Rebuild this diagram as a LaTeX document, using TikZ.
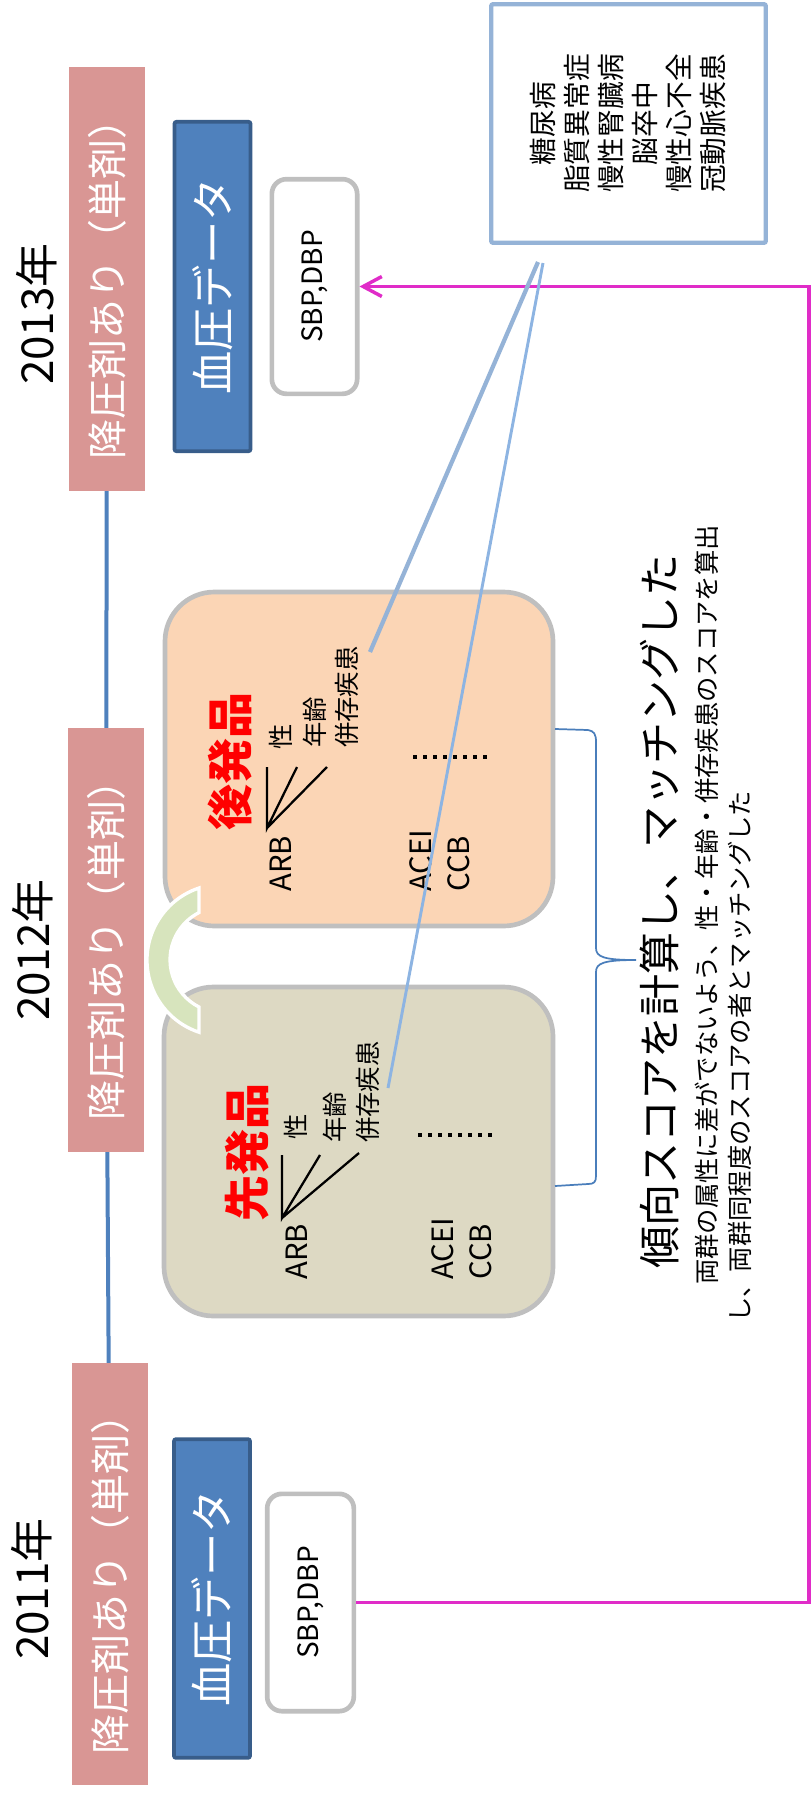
\documentclass[tikz,border=0pt]{standalone}
\usepackage{fontspec}
\setmainfont{Noto Sans CJK JP}
\usetikzlibrary{arrows.meta,backgrounds}
\definecolor{pinkF}{RGB}{217,150,148}
\definecolor{blueF}{RGB}{79,129,189}
\definecolor{blueD}{RGB}{56,93,138}
\definecolor{grayB}{RGB}{191,191,191}
\definecolor{lblue}{RGB}{149,179,215}
\definecolor{lblue2}{RGB}{141,180,226}
\definecolor{orangeF}{RGB}{251,213,181}
\definecolor{tanF}{RGB}{221,217,195}
\definecolor{greenF}{RGB}{215,228,189}
\definecolor{braceC}{RGB}{74,126,187}
\definecolor{magC}{RGB}{224,44,200}
\tikzset{
  pinkbox/.style={rotate=90, fill=pinkF, draw=none, minimum height=57pt, text=white,
    font=\fontsize{30pt}{36pt}\selectfont, inner sep=0pt},
  year/.style={rotate=90, inner sep=0pt, font=\fontsize{33pt}{40pt}\selectfont},
  bluebox/.style={rotate=90, fill=blueF, draw=blueD, line width=2.8pt, rounded corners=1.5pt,
    text=white, font=\fontsize{32.5pt}{39pt}\selectfont, inner sep=0pt},
  sbpbox/.style={rotate=90, fill=white, draw=grayB, line width=3.5pt, rounded corners=11pt,
    font=\fontsize{21pt}{25pt}\selectfont, inner sep=0pt},
  cbox/.style={rotate=90, fill=white, draw=lblue, line width=3.2pt, rounded corners=1.5pt,
    minimum width=179pt, minimum height=206pt, align=center, inner sep=0pt,
    font=\fontsize{20.8pt}{25.5pt}\selectfont},
  bigbox/.style={draw=grayB, line width=3.5pt, rounded corners=37pt, inner sep=0pt},
  redt/.style={rotate=90, inner sep=0pt, text=red, font=\fontsize{34.5pt}{40pt}\selectfont\bfseries},
  lat/.style={rotate=90, inner sep=0pt, anchor=west, font=\fontsize{22pt}{26pt}\selectfont},
  jt/.style={rotate=90, inner sep=0pt, anchor=west, font=\fontsize{19pt}{23pt}\selectfont},
  bigt/.style={rotate=90, inner sep=0pt, font=\fontsize{31.5pt}{38pt}\selectfont},
  subt/.style={rotate=90, inner sep=0pt, anchor=west, font=\fontsize{19pt}{23pt}\selectfont},
  fan/.style={line width=1.7pt, black},
  dotrow/.style={line width=3.4pt, dash pattern=on 3.2pt off 4.3pt},
  timeline/.style={draw=blueF, line width=3pt},
  magline/.style={draw=magC, line width=2.6pt, -{Straight Barb[length=14pt,width=15pt,line width=2.6pt]}},
  bl1/.style={draw=lblue, line width=3.2pt},
  bl2/.style={draw=lblue2, line width=2.2pt},
  bracestyle/.style={draw=braceC, line width=1.3pt}
}
\begin{document}
\begin{tikzpicture}[x=0.75pt,y=-0.75pt]
\useasboundingbox (0,0) rectangle (811,1795);
% pink boxes
\node[pinkbox, minimum width=318pt] (p13) at (107,279) {降圧剤あり（単剤）};
\node[pinkbox, minimum width=318pt] (p12) at (106,940) {降圧剤あり（単剤）};
\node[pinkbox, minimum width=316.5pt] (p11) at (110,1574) {降圧剤あり（単剤）};
\begin{scope}[on background layer]
\draw[timeline] (p13.center) -- (p12.center) -- (p11.center);
\end{scope}
% years
\node[year] (y13) at (37,314) {2013年};
\node[year] (y12) at (33,950) {2012年};
\node[year] (y11) at (32,1589) {2011年};
% blood pressure data
\node[bluebox, minimum width=247pt, minimum height=57pt] (b13) at (212.5,286.5) {血圧データ};
\node[bluebox, minimum width=239pt, minimum height=57pt] (b11) at (212,1598.5) {血圧データ};
\node[sbpbox, minimum width=161pt, minimum height=64pt] (s13) at (314.5,286.5) {SBP,DBP};
\node[sbpbox, minimum width=163pt, minimum height=65pt] (s11) at (310.5,1602.5) {SBP,DBP};
% comorbidities
\node[cbox] (cm) at (628.5,123.5) {糖尿病\\脂質異常症\\慢性腎臓病\\脳卒中\\慢性心不全\\冠動脈疾患};
% big boxes
\node[bigbox, fill=orangeF, minimum width=291pt, minimum height=250.5pt] (ko) at (359,759) {};
\node[bigbox, fill=tanF, minimum width=291.75pt, minimum height=246.75pt] (se) at (358.5,1151.5) {};
% green arc
\fill[greenF, draw=white, line width=2.5pt] (199,888) arc[start angle=251.6, end angle=108.4, radius=76]
  -- (199,1007) arc[start angle=117, end angle=243, radius=53] -- cycle;
% generic (upper)
\node[redt] (koT) at (230,761) {後発品};
\node[lat] (koARB) at (281,892) {ARB};
\node[jt] (koSei) at (281,750) {性};
\node[jt] (koAge) at (315,748) {年齢};
\node[jt] (koCo) at (347,748) {併存疾患};
\node[lat] (koACEI) at (421,892) {ACEI};
\node[lat] (koCCB) at (459,892) {CCB};
\coordinate (koA) at (267,828);
\coordinate (koF1) at (267,767);
\coordinate (koF2) at (297,767);
\coordinate (koF3) at (327,767);
\draw[fan] (koF1) -- (koA) -- (koF2) (koA) -- (koF3);
\coordinate (koD1) at (413,757);
\coordinate (koD2) at (490,757);
\draw[dotrow] (koD1) -- (koD2);
% brand (lower)
\node[redt] (seT) at (247,1152) {先発品};
\node[lat] (seARB) at (297,1280) {ARB};
\node[jt] (seSei) at (296,1140) {性};
\node[jt] (seAge) at (335,1143) {年齢};
\node[jt] (seCo) at (368,1143) {併存疾患};
\node[lat] (seACEI) at (443,1280) {ACEI};
\node[lat] (seCCB) at (481,1280) {CCB};
\coordinate (seA) at (282,1218);
\coordinate (seF1) at (282,1155);
\coordinate (seF2) at (320,1155);
\coordinate (seF3) at (359,1153);
\draw[fan] (seF1) -- (seA) -- (seF2) (seA) -- (seF3);
\coordinate (seD1) at (418,1135);
\coordinate (seD2) at (495,1135);
\draw[dotrow] (seD1) -- (seD2);
% brace
\draw[bracestyle] (555,729) -- (588,730) .. controls (594,731) and (596,734) .. (596,742)
  -- (596,948) .. controls (596,957) and (604,960) .. (636,960)
  .. controls (604,960) and (596,963) .. (596,972)
  -- (596,1176) .. controls (596,1182) and (594,1184) .. (588,1184) -- (555,1186);
% propensity text
\node[bigt] (mt) at (660,911) {傾向スコアを計算し、マッチングした};
\node[subt] (st1) at (707,1285) {両群の属性に差がでないよう、性・年齢・併存疾患のスコアを算出};
\node[subt] (st2) at (740,1323) {し、両群同程度のスコアの者とマッチングした};
% magenta connector
\coordinate (rgt) at (809,0);
\draw[magline] (s11.south) -- (s11.south -| rgt) -- (s13.south -| rgt) -- (s13.south);
% blue lines from comorbidity box
\coordinate (src1) at (538,262);
\coordinate (src2) at (543,263);
\coordinate (koE) at (370,652);
\coordinate (seE) at (388,1088);
\draw[bl1] (src1) -- (koE);
\draw[bl2] (src2) -- (seE);
\end{tikzpicture}
\end{document}
